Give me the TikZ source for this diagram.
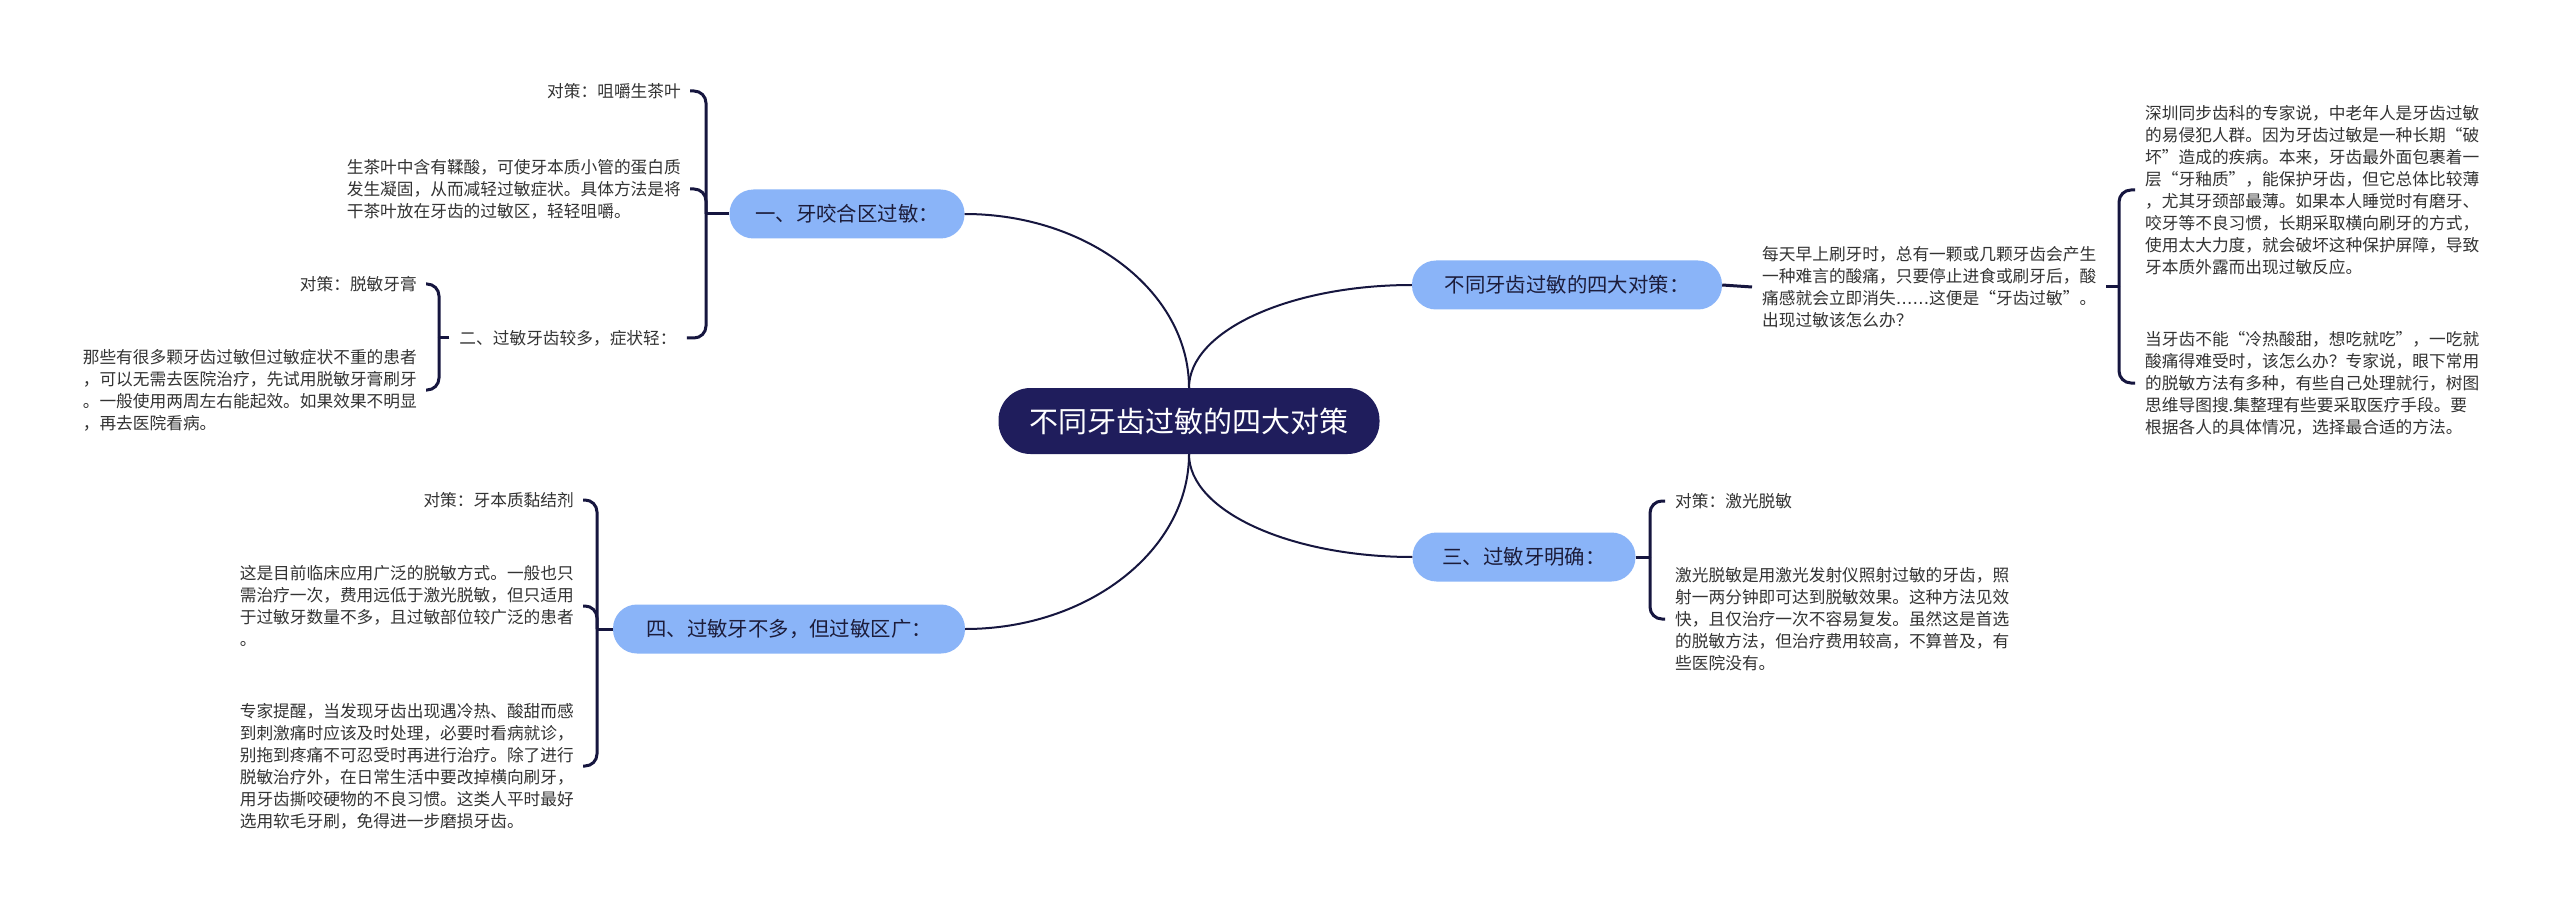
\documentclass[tikz,border=0pt]{standalone}
\usepackage{fontspec}
\setmainfont{Noto Sans CJK SC}
\newfontfamily\dejavu{DejaVu Sans}
\newcommand{\lqq}{{\addfontfeature{RawFeature=+fwid}“}}
\newcommand{\rqq}{{\addfontfeature{RawFeature=+fwid}”}}
\newcommand{\elli}{{\dejavu ……}}
\definecolor{navy}{HTML}{1F1D5C}
\definecolor{lineclr}{HTML}{16163F}
\definecolor{lblue}{HTML}{8AB4F8}
\definecolor{btext}{HTML}{1C1C3A}
\definecolor{ltext}{HTML}{333333}
\tikzset{
  centralnode/.style={fill=navy, text=white, rounded corners=32pt, minimum height=66pt, minimum width=381pt, inner sep=0pt, font=\fontsize{29}{35}\selectfont},
  branchnode/.style={fill=lblue, text=btext, rounded corners=24pt, minimum height=49pt, inner sep=0pt, font=\fontsize{20.4}{24}\selectfont},
  leafnode/.style={text=ltext, align=left, inner xsep=9pt, inner ysep=0pt, font=\fontsize{16.7}{22}\selectfont},
  leafL/.style={leafnode, anchor=east},
  leafR/.style={leafnode, anchor=west},
  mainline/.style={draw=lineclr, line width=2pt},
  brline/.style={draw=lineclr, line width=3pt, rounded corners=12pt},
}
\begin{document}
\begin{tikzpicture}[x=1pt,y=-1pt]
\useasboundingbox[fill=white] (0,0) rectangle (2560,909);

% central
\node[centralnode] (C) at (1189,421) {不同牙齿过敏的四大对策};

% branches
\node[branchnode, minimum width=235pt] (B1) at (847,214) {一、牙咬合区过敏：};
\node[branchnode, minimum width=352pt] (B4) at (789,629) {四、过敏牙不多，但过敏区广：};
\node[branchnode, minimum width=310pt] (BR) at (1567,285) {不同牙齿过敏的四大对策：};
\node[branchnode, minimum width=223pt] (B3) at (1524,557) {三、过敏牙明确：};

% main curves
\draw[mainline] (B1.east) .. controls +(123,0) and +(0,-96) .. (C.north);
\draw[mainline] (B4.east) .. controls +(123,0) and +(0,96) .. (C.south);
\draw[mainline] (C.north) .. controls +(0,-57) and +(-122,0) .. (BR.west);
\draw[mainline] (C.south) .. controls +(0,57) and +(-122,0) .. (B3.west);

% ---------- branch 1 ----------
\coordinate (J1) at (706,214);
\node[leafL] (L1a) at (690,91) {对策：咀嚼生茶叶};
\node[leafL] (L1b) at (690,189) {生茶叶中含有鞣酸，可使牙本质小管的蛋白质\\发生凝固，从而减轻过敏症状。具体方法是将\\干茶叶放在牙齿的过敏区，轻轻咀嚼。};
\node[leafnode, inner xsep=10pt] (B2) at (568,338) {二、过敏牙齿较多，症状轻：};
\draw[brline] (B1.west) -- (J1);
\draw[brline] (J1) |- (L1a.east);
\draw[brline] (J1) |- (L1b.east);
\draw[brline] (J1) |- (B2.east);

% ---------- branch 2 ----------
\coordinate (J2) at (439,338);
\node[leafL] (L2a) at (426,284) {对策：脱敏牙膏};
\node[leafL] (L2b) at (426,390) {那些有很多颗牙齿过敏但过敏症状不重的患者\\，可以无需去医院治疗，先试用脱敏牙膏刷牙\\。一般使用两周左右能起效。如果效果不明显\\，再去医院看病。};
\draw[brline] (B2.west) -- (J2);
\draw[brline] (J2) |- (L2a.east);
\draw[brline] (J2) |- (L2b.east);

% ---------- branch 4 ----------
\coordinate (J4) at (597,629);
\node[leafL] (L4a) at (583,500) {对策：牙本质黏结剂};
\node[leafL] (L4b) at (583,606) {这是目前临床应用广泛的脱敏方式。一般也只\\需治疗一次，费用远低于激光脱敏，但只适用\\于过敏牙数量不多，且过敏部位较广泛的患者\\。};
\node[leafL] (L4c) at (583,766) {专家提醒，当发现牙齿出现遇冷热、酸甜而感\\到刺激痛时应该及时处理，必要时看病就诊，\\别拖到疼痛不可忍受时再进行治疗。除了进行\\脱敏治疗外，在日常生活中要改掉横向刷牙，\\用牙齿撕咬硬物的不良习惯。这类人平时最好\\选用软毛牙刷，免得进一步磨损牙齿。};
\draw[brline] (B4.west) -- (J4);
\draw[brline] (J4) |- (L4a.east);
\draw[brline] (J4) |- (L4b.east);
\draw[brline] (J4) |- (L4c.east);

% ---------- right top ----------
\node[leafR, inner xsep=10pt] (T1) at (1752,287) {每天早上刷牙时，总有一颗或几颗牙齿会产生\\一种难言的酸痛，只要停止进食或刷牙后，酸\\痛感就会立即消失\elli 这便是\lqq 牙齿过敏\rqq 。\\出现过敏该怎么办？};
\coordinate (JR) at (2119,287);
\node[leafR, inner xsep=10pt] (R1) at (2135,190) {深圳同步齿科的专家说，中老年人是牙齿过敏\\的易侵犯人群。因为牙齿过敏是一种长期\lqq 破\\坏\rqq 造成的疾病。本来，牙齿最外面包裹着一\\层\lqq 牙釉质\rqq ，能保护牙齿，但它总体比较薄\\，尤其牙颈部最薄。如果本人睡觉时有磨牙、\\咬牙等不良习惯，长期采取横向刷牙的方式，\\使用太大力度，就会破坏这种保护屏障，导致\\牙本质外露而出现过敏反应。};
\node[leafR, inner xsep=10pt] (R2) at (2135,383) {当牙齿不能\lqq 冷热酸甜，想吃就吃\rqq ，一吃就\\酸痛得难受时，该怎么办？专家说，眼下常用\\的脱敏方法有多种，有些自己处理就行，树图\\思维导图搜.集整理有些要采取医疗手段。要\\根据各人的具体情况，选择最合适的方法。};
\draw[brline] (BR.east) -- (T1.west);
\draw[brline] (T1.east) -- (JR);
\draw[brline] (JR) |- (R1.west);
\draw[brline] (JR) |- (R2.west);

% ---------- branch 3 ----------
\coordinate (J3) at (1650,557);
\node[leafR, inner xsep=10pt] (L3a) at (1665,501) {对策：激光脱敏};
\node[leafR, inner xsep=10pt] (L3b) at (1665,619) {激光脱敏是用激光发射仪照射过敏的牙齿，照\\射一两分钟即可达到脱敏效果。这种方法见效\\快，且仅治疗一次不容易复发。虽然这是首选\\的脱敏方法，但治疗费用较高，不算普及，有\\些医院没有。};
\draw[brline] (B3.east) -- (J3);
\draw[brline] (J3) |- (L3a.west);
\draw[brline] (J3) |- (L3b.west);
\end{tikzpicture}
\end{document}
